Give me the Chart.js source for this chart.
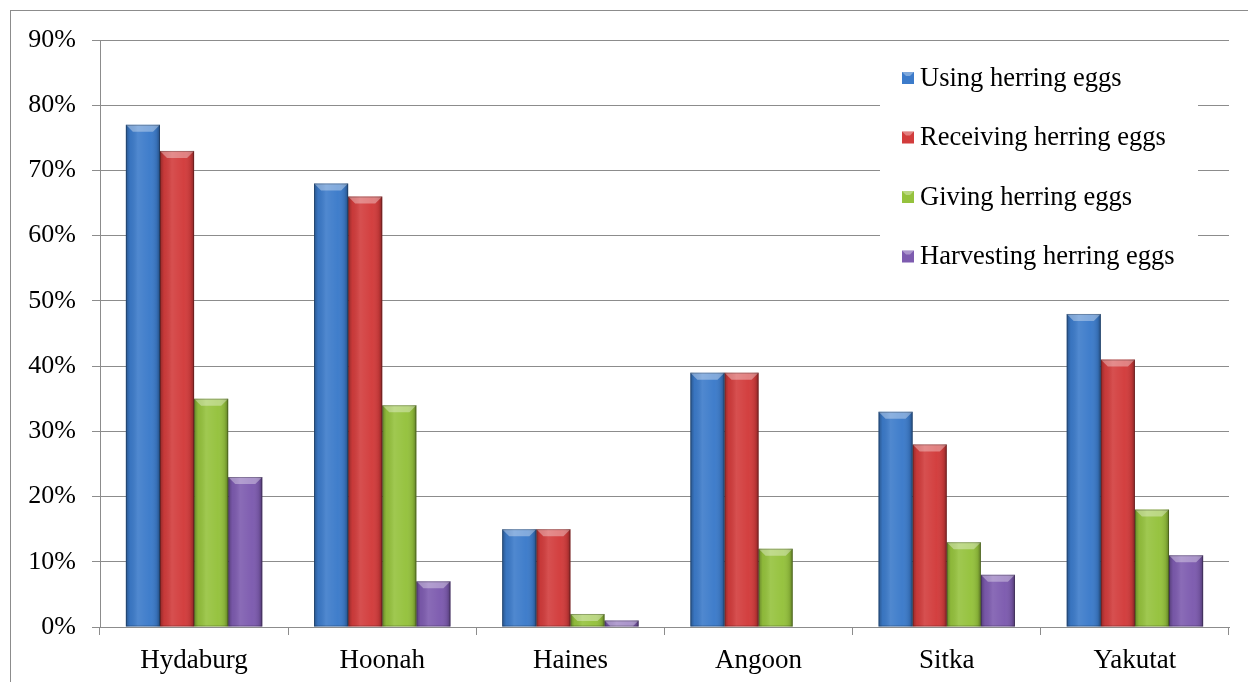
<!DOCTYPE html>
<html>
<head>
<meta charset="utf-8">
<script src="https://cdn.jsdelivr.net/npm/chart.js@4/dist/chart.umd.min.js"></script>
<style>
body{margin:0;background:#fff;}
#wrap{position:relative;width:1248px;height:682px;}
#frame{position:absolute;left:10px;top:10px;width:1240px;height:680px;border:1px solid #8c8c8c;box-sizing:border-box;pointer-events:none;}
</style>
</head>
<body>
<div id="wrap">
<canvas id="eggsChart" width="1248" height="682"></canvas>
<div id="frame"></div>
</div>
<script>
const communities = ['Hydaburg','Hoonah','Haines','Angoon','Sitka','Yakutat'];
const usingEggs      = [77, 68, 15, 39, 33, 48];
const receivingEggs  = [73, 66, 15, 39, 28, 41];
const givingEggs     = [35, 34, 2, 12, 13, 18];
const harvestingEggs = [23, 7, 1, 0, 8, 11];
const yTicks = [0,10,20,30,40,50,60,70,80,90];

const serif = "'Liberation Serif','Times New Roman',serif";

// glossy bevel drawn over each bar
const bevel = {
 id:'bevel',
 afterDatasetsDraw(chart){
  const c = chart.ctx;
  chart.data.datasets.forEach((ds,i)=>{
   chart.getDatasetMeta(i).data.forEach(el=>{
    const {x,y,base,width} = el.getProps(['x','y','base','width'],true);
    const h = base - y;
    if(h <= 0.5) return;
    const l = x - width/2, r = x + width/2;
    c.save();
    const g = c.createLinearGradient(l,0,r,0);
    g.addColorStop(0,'rgba(0,0,0,0.30)');
    g.addColorStop(0.12,'rgba(0,0,0,0.05)');
    g.addColorStop(0.35,'rgba(255,255,255,0.10)');
    g.addColorStop(0.7,'rgba(255,255,255,0.02)');
    g.addColorStop(0.9,'rgba(0,0,0,0.10)');
    g.addColorStop(1,'rgba(0,0,0,0.35)');
    c.fillStyle = g;
    c.fillRect(l,y,width,h);
    // top facet
    const d = Math.min(7,h);
    c.beginPath();
    c.moveTo(l,y);c.lineTo(r,y);c.lineTo(r-d,y+d);c.lineTo(l+d,y+d);c.closePath();
    c.fillStyle='rgba(255,255,255,0.35)';
    c.fill();
    c.strokeStyle='rgba(0,0,0,0.25)';
    c.lineWidth=1;
    c.strokeRect(l+0.5,y+0.5,width-1,h-1);
    c.restore();
   });
  });
 }
};

// legend box sitting over the grid on the right
const boxLegend = {
 id:'boxLegend',
 afterDraw(chart){
  const c = chart.ctx;
  const a = chart.chartArea;
  const bx = a.right - 349, by = a.top + 8;
  c.save();
  c.fillStyle='#fff';
  c.fillRect(bx,by,318,234);
  c.font = '26.5px ' + serif;
  c.textBaseline='middle';
  chart.data.datasets.forEach((ds,i)=>{
   const cy = by + 30 + i*59.5;
   const sx = bx + 22;
   c.fillStyle=ds.backgroundColor;
   c.fillRect(sx,cy-6,12,12);
   c.fillStyle='rgba(255,255,255,0.35)';
   c.beginPath();c.moveTo(sx,cy-6);c.lineTo(sx+12,cy-6);c.lineTo(sx+8,cy-2);c.lineTo(sx+4,cy-2);c.fill();
   c.fillStyle='#000';
   c.fillText(ds.label,sx+18,cy+1);
  });
  c.restore();
 }
};

new Chart(document.getElementById('eggsChart'),{
 type:'bar',
 data:{
  labels:communities,
  datasets:[
   {label:'Using herring eggs',data:usingEggs,backgroundColor:'#3C7BCA'},
   {label:'Receiving herring eggs',data:receivingEggs,backgroundColor:'#D23C3C'},
   {label:'Giving herring eggs',data:givingEggs,backgroundColor:'#95C23D'},
   {label:'Harvesting herring eggs',data:harvestingEggs,backgroundColor:'#7D5BAF'}
  ]
 },
 options:{
  responsive:false,
  animation:false,
  layout:{padding:{top:40,right:19,left:0,bottom:0}},
  plugins:{legend:{display:false},tooltip:{enabled:false}},
  datasets:{bar:{categoryPercentage:0.725,barPercentage:1}},
  scales:{
   x:{
    grid:{offset:true,drawOnChartArea:false,drawTicks:true,tickLength:8,color:'#8c8c8c'},
    border:{color:'#8c8c8c'},
    ticks:{color:'#000',font:{family:serif,size:27},padding:10},
    afterFit(s){s.height=55;}
   },
   y:{
    min:0,max:90,
    afterBuildTicks(s){s.ticks=yTicks.map(v=>({value:v}));},
    grid:{color:'#8c8c8c',tickLength:8},
    border:{color:'#8c8c8c'},
    ticks:{color:'#000',font:{family:serif,size:26},padding:16,callback:v=>v+'%'},
    afterFit(s){s.width=100;}
   }
  }
 },
 plugins:[bevel,boxLegend]
});
</script>
</body>
</html>
